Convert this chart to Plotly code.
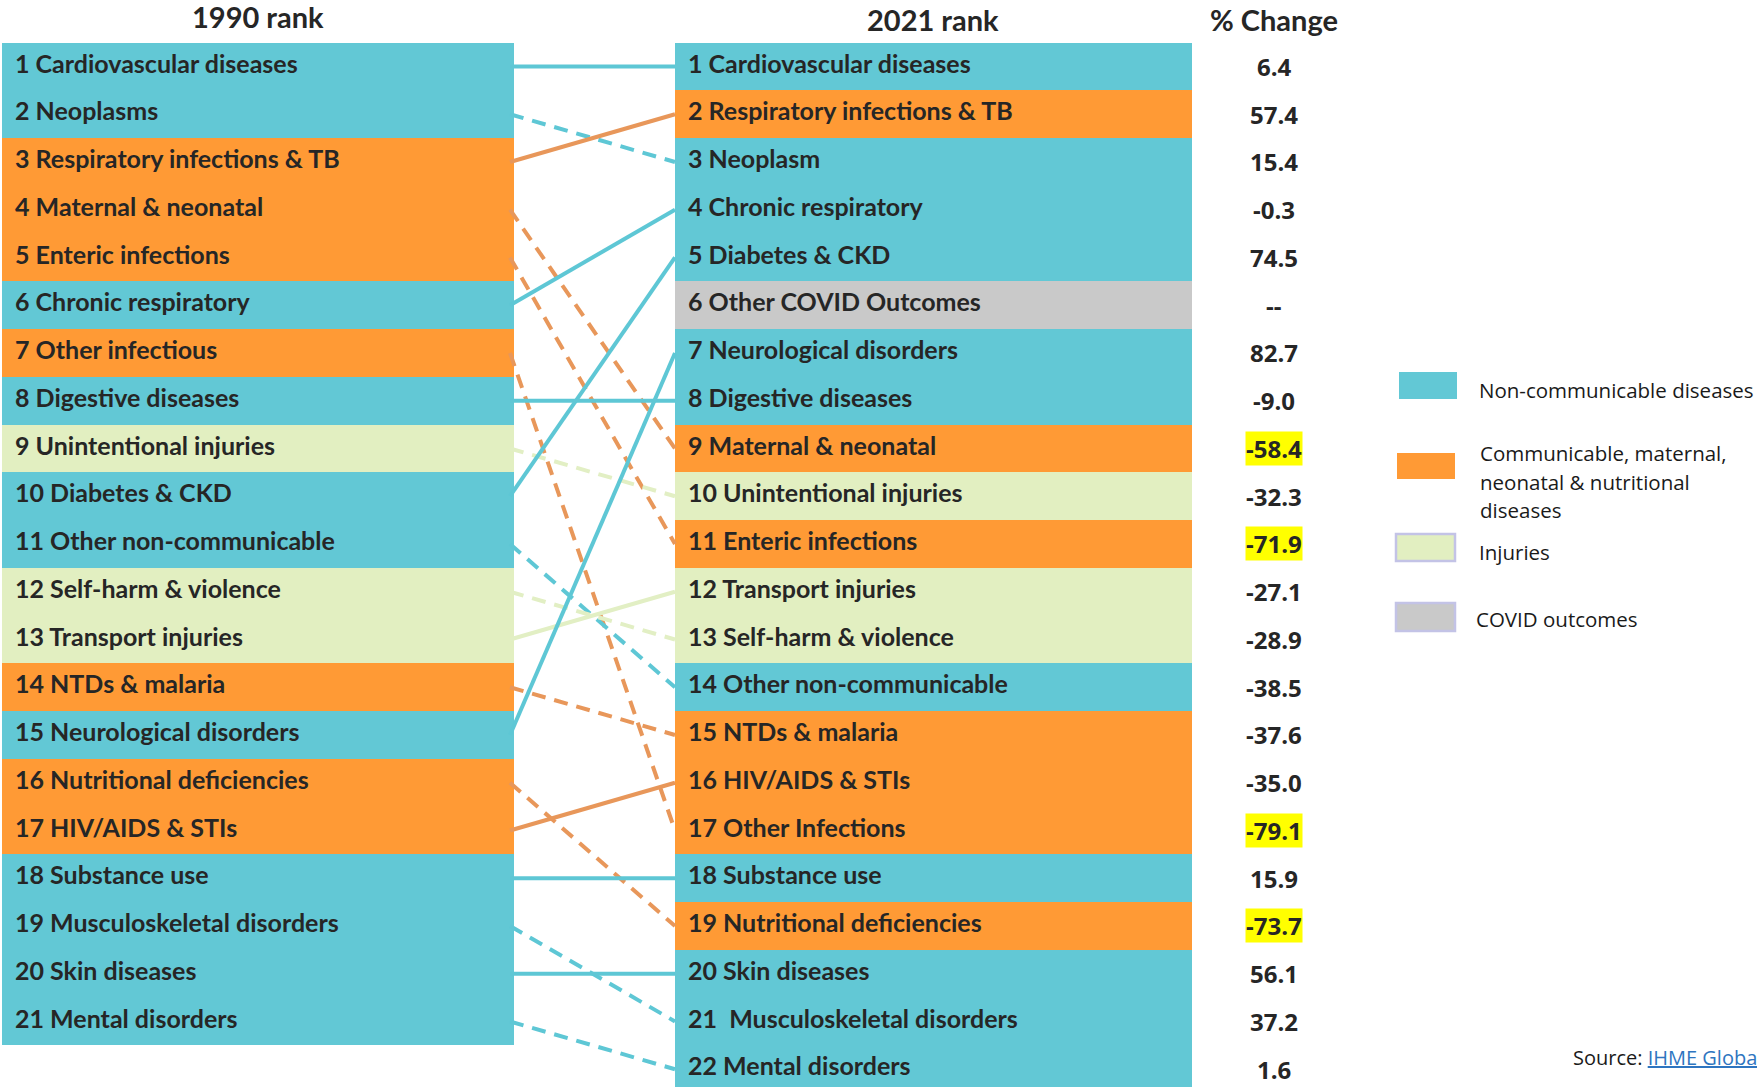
import plotly.graph_objects as go

# ---------------- data ----------------
causes_1990 = ["Cardiovascular diseases", "Neoplasms", "Respiratory infections & TB",
               "Maternal & neonatal", "Enteric infections", "Chronic respiratory",
               "Other infectious", "Digestive diseases", "Unintentional injuries",
               "Diabetes & CKD", "Other non-communicable", "Self-harm & violence",
               "Transport injuries", "NTDs & malaria", "Neurological disorders",
               "Nutritional deficiencies", "HIV/AIDS & STIs", "Substance use",
               "Musculoskeletal disorders", "Skin diseases", "Mental disorders"]
groups_1990 = ["NCD", "NCD", "CMNN", "CMNN", "CMNN", "NCD", "CMNN", "NCD", "INJ",
               "NCD", "NCD", "INJ", "INJ", "CMNN", "NCD", "CMNN", "CMNN", "NCD",
               "NCD", "NCD", "NCD"]
rank_2021_of_1990 = [1, 3, 2, 9, 11, 4, 17, 8, 10, 5, 14, 13, 12, 15, 7, 19, 16, 18, 21, 20, 22]

causes_2021 = ["Cardiovascular diseases", "Respiratory infections & TB", "Neoplasm",
               "Chronic respiratory", "Diabetes & CKD", "Other COVID Outcomes",
               "Neurological disorders", "Digestive diseases", "Maternal & neonatal",
               "Unintentional injuries", "Enteric infections", "Transport injuries",
               "Self-harm & violence", "Other non-communicable", "NTDs & malaria",
               "HIV/AIDS & STIs", "Other Infections", "Substance use",
               "Nutritional deficiencies", "Skin diseases",
               "\u00a0Musculoskeletal disorders", "Mental disorders"]
groups_2021 = ["NCD", "CMNN", "NCD", "NCD", "NCD", "COVID", "NCD", "NCD", "CMNN",
               "INJ", "CMNN", "INJ", "INJ", "NCD", "CMNN", "CMNN", "CMNN", "NCD",
               "CMNN", "NCD", "NCD", "NCD"]
pct_change = [6.4, 57.4, 15.4, -0.3, 74.5, None, 82.7, -9.0, -58.4, -32.3, -71.9,
              -27.1, -28.9, -38.5, -37.6, -35.0, -79.1, 15.9, -73.7, 56.1, 37.2, 1.6]
highlighted = [False, False, False, False, False, False, False, False, True, False, True,
               False, False, False, False, False, True, False, True, False, False, False]

legend_groups = ["NCD", "CMNN", "INJ", "COVID"]
legend_lines = [["Non-communicable diseases"],
                ["Communicable, maternal,", "neonatal & nutritional", "diseases"],
                ["Injuries"], ["COVID outcomes"]]

# ---------------- styles / layout (page pixels) ----------------
W, H = 1757, 1087

FILL = {"NCD": "#62C8D5", "CMNN": "#FF9A35", "INJ": "#E2EFC1", "COVID": "#C9C9C9"}
LINE = {"NCD": "#5EC7D5", "CMNN": "#E8975A", "INJ": "#E2EFC4", "COVID": "#C9C9C9"}
TXT = "#262626"
LABEL_FONT = "Lato, 'Open Sans', sans-serif"
VAL_FONT = "'Open Sans', sans-serif"

LEFT_X0, LEFT_X1 = 2, 514
RIGHT_X0, RIGHT_X1 = 675, 1192
VALUE_X = 1274
TEXT_PAD = 13

ROW_TOP = 42.6      # pixel of the top edge of row 1
ROW_H = 47.75       # pixel height of one rank row

n1, n2 = len(causes_1990), len(causes_2021)
ranks1 = list(range(1, n1 + 1))
ranks2 = list(range(1, n2 + 1))

fig = go.Figure()

# panels
fig.add_trace(go.Bar(
    y=ranks1, x=[LEFT_X1 - LEFT_X0] * n1, base=LEFT_X0, orientation="h", width=1,
    marker=dict(color=[FILL[g] for g in groups_1990], line=dict(width=0)),
    hoverinfo="skip", showlegend=False))
fig.add_trace(go.Bar(
    y=ranks2, x=[RIGHT_X1 - RIGHT_X0] * n2, base=RIGHT_X0, orientation="h", width=1,
    marker=dict(color=[FILL[g] for g in groups_2021], line=dict(width=0)),
    hoverinfo="skip", showlegend=False))

# connectors
for r1, r2, g in zip(ranks1, rank_2021_of_1990, groups_1990):
    fig.add_trace(go.Scatter(
        x=[LEFT_X1 - 4, RIGHT_X0], y=[r1, r2], mode="lines",
        line=dict(color=LINE[g], width=4, dash="solid" if r2 <= r1 else "14px,9px"),
        hoverinfo="skip", showlegend=False))

# row labels
fig.add_trace(go.Scatter(
    x=[LEFT_X0 + TEXT_PAD] * n1, y=ranks1, mode="text",
    text=[f"{r} {c}" for r, c in zip(ranks1, causes_1990)],
    textposition="middle right",
    textfont=dict(family=LABEL_FONT, size=25, color=TXT, weight="bold"),
    hoverinfo="skip", showlegend=False))
fig.add_trace(go.Scatter(
    x=[RIGHT_X0 + TEXT_PAD] * n2, y=ranks2, mode="text",
    text=[f"{r} {c}" for r, c in zip(ranks2, causes_2021)],
    textposition="middle right",
    textfont=dict(family=LABEL_FONT, size=25, color=TXT, weight="bold"),
    hoverinfo="skip", showlegend=False))

annotations = []
for r, v, hl in zip(ranks2, pct_change, highlighted):
    annotations.append(dict(
        x=VALUE_X, y=r, xref="x", yref="y", showarrow=False,
        text="--" if v is None else f"{v:.1f}",
        font=dict(family=VAL_FONT, size=24, color=TXT, weight="bold"),
        bgcolor="#FFFF00" if hl else "rgba(0,0,0,0)", borderpad=0,
        xanchor="center", yanchor="middle"))

for txt, xc, yc in [("1990 rank", 258, 17), ("2021 rank", 933, 19), ("% Change", 1274, 19)]:
    annotations.append(dict(
        x=xc / W, y=1 - yc / H, xref="paper", yref="paper", showarrow=False,
        text=txt, font=dict(family=LABEL_FONT, size=29, color=TXT, weight="bold"),
        xanchor="center", yanchor="middle"))

shapes = []
sw_boxes = [(1399, 372, 1457, 399), (1397, 453, 1455, 479),
            (1396, 534, 1455, 561), (1396, 603, 1455, 631)]
txt_pos = [(1477, 390), (1478, 453), (1477, 552), (1474, 619)]
LEG_LINE_STEP = 28.5
for g, lines, (x0, y0, x1, y1), (tx, ty) in zip(legend_groups, legend_lines, sw_boxes, txt_pos):
    bordered = g in ("INJ", "COVID")
    shapes.append(dict(
        type="rect", xref="paper", yref="paper",
        x0=x0 / W, x1=x1 / W, y0=1 - y1 / H, y1=1 - y0 / H,
        fillcolor=FILL[g],
        line=dict(color="#C3C3E6" if bordered else FILL[g], width=2.5 if bordered else 0)))
    for i, ln in enumerate(lines):
        annotations.append(dict(
            x=tx / W, y=1 - (ty + i * LEG_LINE_STEP) / H, xref="paper", yref="paper",
            showarrow=False, text=ln, align="left", xanchor="left", yanchor="middle",
            font=dict(family=VAL_FONT, size=20.5, color="#1A1A1A")))

annotations.append(dict(
    x=1571 / W, y=1 - 1057 / H, xref="paper", yref="paper", showarrow=False,
    text="Source: <span style='color:#2E75C0;text-decoration:underline'>IHME Global Burden of Disease</span>",
    xanchor="left", yanchor="middle",
    font=dict(family=VAL_FONT, size=20, color="#1A1A1A")))

fig.update_layout(
    width=W, height=H, margin=dict(l=0, r=0, t=0, b=0),
    paper_bgcolor="white", plot_bgcolor="white",
    barmode="overlay", bargap=0,
    xaxis=dict(range=[0, W], visible=False, fixedrange=True),
    yaxis=dict(range=[0.5 + (H - ROW_TOP) / ROW_H, 0.5 - ROW_TOP / ROW_H],
               visible=False, fixedrange=True),
    annotations=annotations, shapes=shapes, showlegend=False)

fig.write_html("out.html",
               config={"displayModeBar": False, "staticPlot": True},
               post_script="document.body.style.margin='0px';document.body.style.overflow='hidden';")
